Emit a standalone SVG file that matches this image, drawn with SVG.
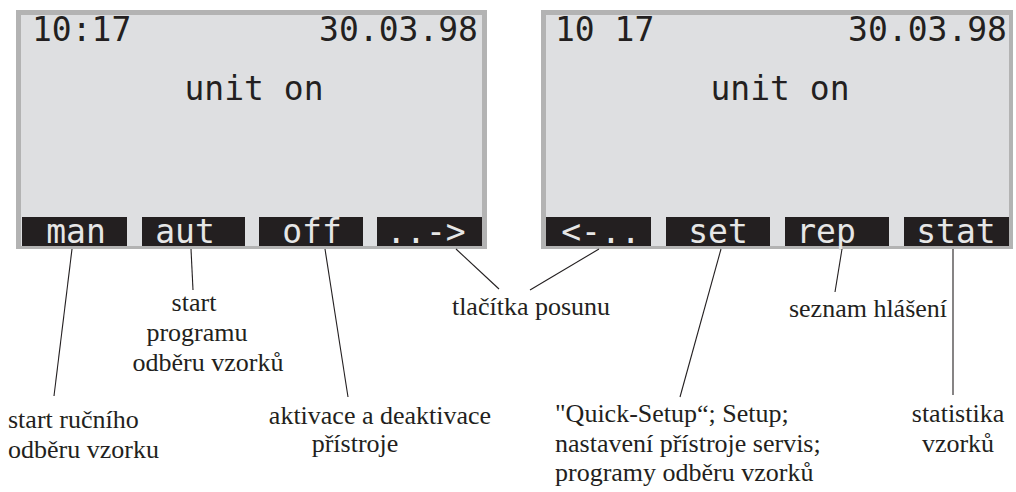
<svg xmlns="http://www.w3.org/2000/svg" width="1016" height="492" viewBox="0 0 1016 492">
<style>
.frame{fill:#b3b3b3}
.inner{fill:#dedfe1}
.btn{fill:#231f20}
.lcd{font-family:"DejaVu Sans Mono","Liberation Mono",monospace;font-size:33px;fill:#231f20}
.blab{font-family:"DejaVu Sans Mono","Liberation Mono",monospace;font-size:33px;fill:#e6e6e6}
.lbl{font-family:"Liberation Serif",serif;font-size:26px;fill:#231f20}
.conn line{stroke:#231f20;stroke-width:1.1}
</style>
<rect width="1016" height="492" fill="#ffffff"/>
<g id="screen1">
<rect class="frame" x="16" y="10" width="471" height="239"/>
<rect class="inner" x="21" y="15" width="461" height="231"/>
<text class="lcd" x="32" y="41">10:17</text>
<text class="lcd" x="478" y="41" text-anchor="end">30.03.98</text>
<text class="lcd" x="254" y="100" text-anchor="middle">unit on</text>
<rect class="btn" x="22" y="217" width="105" height="29"/>
<rect class="btn" x="142" y="217" width="103" height="29"/>
<rect class="btn" x="259" y="217" width="104" height="29"/>
<rect class="btn" x="377" y="217" width="105" height="29"/>
<text class="blab" x="76" y="243" text-anchor="middle">man</text>
<text class="blab" x="185" y="243" text-anchor="middle">aut</text>
<text class="blab" x="312" y="243" text-anchor="middle">off</text>
<text class="blab" x="426" y="243" text-anchor="middle">..-&gt;</text>
</g>
<g id="screen2">
<rect class="frame" x="541" y="10" width="472" height="239"/>
<rect class="inner" x="546" y="15" width="463" height="231"/>
<text class="lcd" x="555" y="41">10 17</text>
<text class="lcd" x="1007" y="41" text-anchor="end">30.03.98</text>
<text class="lcd" x="780" y="100" text-anchor="middle">unit on</text>
<rect class="btn" x="546" y="217" width="105" height="29"/>
<rect class="btn" x="666" y="217" width="104" height="29"/>
<rect class="btn" x="785" y="217" width="104" height="29"/>
<rect class="btn" x="904" y="217" width="105" height="29"/>
<text class="blab" x="601" y="243" text-anchor="middle">&lt;-..</text>
<text class="blab" x="718" y="243" text-anchor="middle">set</text>
<text class="blab" x="826" y="243" text-anchor="middle">rep</text>
<text class="blab" x="956" y="243" text-anchor="middle">stat</text>
</g>
<g id="connectors" class="conn">
<line x1="72" y1="249" x2="54" y2="396"/>
<line x1="191" y1="249" x2="193" y2="290"/>
<line x1="325" y1="249" x2="348" y2="397"/>
<line x1="456" y1="249" x2="499" y2="289"/>
<line x1="599" y1="249" x2="530" y2="290"/>
<line x1="721" y1="249" x2="680" y2="397"/>
<line x1="842" y1="249" x2="835" y2="292"/>
<line x1="953" y1="249" x2="953" y2="395"/>
</g>
<g id="label-man">
<text class="lbl" x="8" y="428">start ručního</text>
<text class="lbl" x="8" y="458">odběru vzorku</text>
</g>
<g id="label-aut">
<text class="lbl" x="194" y="311" text-anchor="middle">start</text>
<text class="lbl" x="197" y="341" text-anchor="middle">programu</text>
<text class="lbl" x="208" y="371" text-anchor="middle">odběru vzorků</text>
</g>
<g id="label-off">
<text class="lbl" x="380" y="424" text-anchor="middle">aktivace a deaktivace</text>
<text class="lbl" x="355" y="452" text-anchor="middle">přístroje</text>
</g>
<g id="label-scroll">
<text class="lbl" x="531" y="315" text-anchor="middle">tlačítka posunu</text>
</g>
<g id="label-set">
<text class="lbl" x="555" y="422">"Quick-Setup“; Setup;</text>
<text class="lbl" x="555" y="452">nastavení přístroje servis;</text>
<text class="lbl" x="555" y="481">programy odběru vzorků</text>
</g>
<g id="label-rep">
<text class="lbl" x="868" y="317" text-anchor="middle">seznam hlášení</text>
</g>
<g id="label-stat">
<text class="lbl" x="958" y="422" text-anchor="middle">statistika</text>
<text class="lbl" x="958" y="452" text-anchor="middle">vzorků</text>
</g>
</svg>
